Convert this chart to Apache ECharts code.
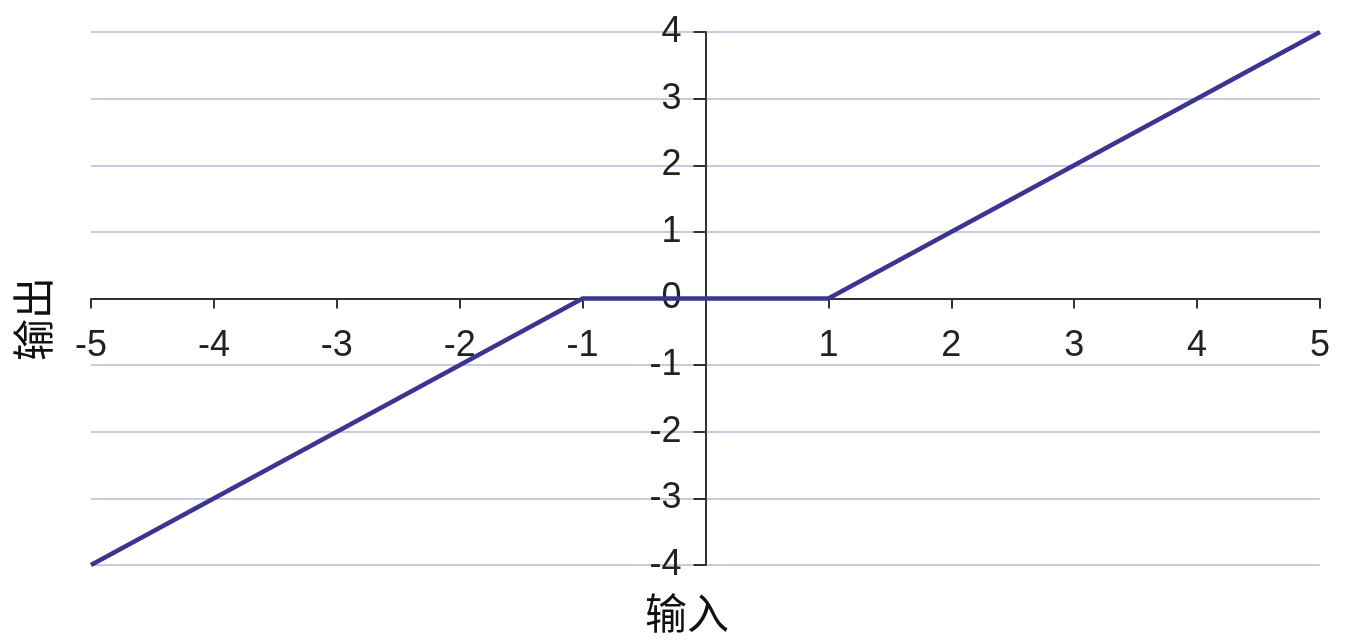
<!DOCTYPE html>
<html>
<head>
<meta charset="utf-8">
<script src="https://cdn.jsdelivr.net/npm/echarts@6/dist/echarts.min.js"></script>
<style>
  html, body { margin: 0; padding: 0; background: #fff; }
  #main { width: 1349px; height: 641px; }
</style>
</head>
<body>
<div id="main"></div>
<script>
// 折线数据：输入 -> 输出
var inputs = [-5, -1, 1, 5];
var outputs = [-4, 0, 0, 4];
var xTicks = [-5, -4, -3, -2, -1, 0, 1, 2, 3, 4, 5];
var yTicks = [-4, -3, -2, -1, 0, 1, 2, 3, 4];
var xName = '输入';
var yName = '输出';

var myChart = echarts.init(document.getElementById('main'));

var lineData = inputs.map(function (x, i) {
    return [x, outputs[i]];
});

var labelFont = 'Liberation Sans, Arial, sans-serif';
var cjkFont = 'Noto Sans CJK SC, sans-serif';

option = {
    animation: false,
    grid: {
        left: 91,
        right: 29,
        top: 32,
        bottom: 76
    },
    xAxis: {
        type: 'value',
        min: xTicks[0],
        max: xTicks[xTicks.length - 1],
        interval: 1,
        axisLine: {
            onZero: false,
            lineStyle: { color: '#333', width: 2 }
        },
        axisTick: {
            show: true,
            length: 10,
            lineStyle: { color: '#333', width: 2 }
        },
        axisLabel: {
            margin: 30,
            fontSize: 36,
            fontFamily: labelFont,
            color: '#222',
            formatter: function (v) {
                return v === 0 ? '' : String(v);
            }
        },
        splitLine: { show: false }
    },
    yAxis: {
        type: 'value',
        min: yTicks[0],
        max: yTicks[yTicks.length - 1],
        interval: 1,
        axisLine: {
            show: true,
            onZero: false,
            lineStyle: { color: '#333', width: 2 }
        },
        axisTick: {
            show: true,
            length: 12,
            lineStyle: { color: '#333', width: 2 }
        },
        axisLabel: {
            margin: 24,
            fontSize: 36,
            fontFamily: labelFont,
            color: '#222'
        },
        splitLine: {
            show: true,
            lineStyle: { color: '#b9b9d9', width: 1.5 }
        }
    },
    graphic: [{
        type: 'text',
        left: 645,
        top: 592,
        style: {
            text: xName,
            font: '42px ' + cjkFont,
            fill: '#111'
        }
    }, {
        type: 'text',
        x: 12,
        y: 361,
        rotation: Math.PI / 2,
        style: {
            text: yName,
            font: '42px ' + cjkFont,
            fill: '#111'
        }
    }],
    series: [{
        type: 'line',
        data: lineData,
        showSymbol: false,
        lineStyle: {
            color: '#3b3490',
            width: 4.5
        },
        z: 5
    }]
};

myChart.setOption(option);

// 把坐标轴移到原点（标签随轴线移动）
var origin = myChart.convertToPixel({ gridIndex: 0 }, [0, 0]);
var corner = myChart.convertToPixel({ gridIndex: 0 }, [xTicks[0], yTicks[0]]);
myChart.setOption({
    xAxis: { offset: -(corner[1] - origin[1]) },
    yAxis: { offset: -(origin[0] - corner[0]) }
});
</script>
</body>
</html>
